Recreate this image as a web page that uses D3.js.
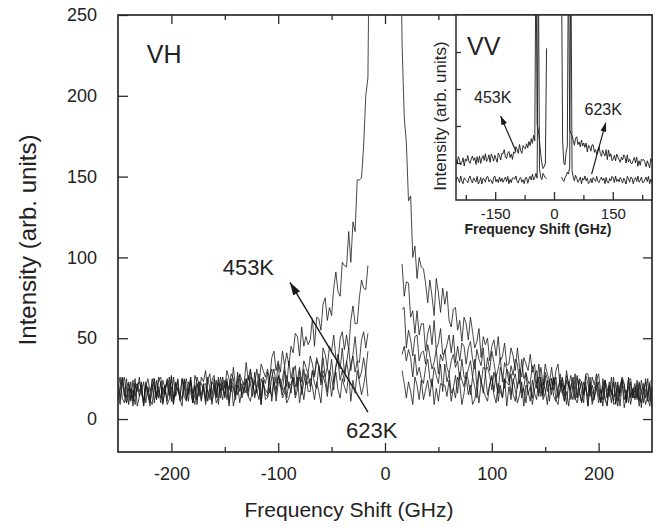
<!DOCTYPE html>
<html>
<head>
<meta charset="utf-8">
<script src="https://cdn.jsdelivr.net/npm/d3@7"></script>
<style>
body{margin:0;background:#fff;}
svg{font-family:"Liberation Sans",Arial,Helvetica,sans-serif;}
</style>
</head>
<body>
<svg id="chart" width="663" height="529"></svg>
<script>
// sampling grids of the spectra (GHz)
var leftFreq = d3.range(-250, -15, 2);   // -250 .. -16
var midFreq = d3.range(-13, 15, 3);      // -13 .. 14 (only the 453K curve is kept here)
var rightFreq = d3.range(16, 251, 2);    // 16 .. 250
var insetLeftFreq = d3.range(-250, -17, 3);  // -250 .. -19
var insetRightFreq = d3.range(19, 251, 3);   // 19 .. 250

// VH spectra (arb. units)
var vh453Left = [20,12,25,18,10,15,23,8,21,17, 26,15,12,20,25,17,22,10,24,13, 23,10,19,24,15,27,13,17,25,12, 25,20,12,23,17,10,27,22,14,26,
  23,30,17,14,24,27,16,22,13,26, 19,30,25,17,32,20,15,28,24,21, 35,24,31,19,22,31,21,34,30,26, 31,24,38,42,30,36,29,42,33,41,
  33,45,41,53,51,39,57,45,51,46, 49,62,45,63,62,55,71,75,61,69, 64,81,91,79,76,97,95,94,116,97, 122,116,148,148,149,169,200,211];
var vh453Mid = [420,560,650,700,720,710,680,600,470,340];
var vh453Right = [232,187,171,135,138,100,107,87,100,94, 93,84,72,86,76,64,87,78,66,81, 71,79,61,57,68,69,55,61,48,63, 59,49,63,54,44,48,56,38,51,46,
  50,36,45,49,39,51,36,39,47,33, 34,44,39,30,44,32,26,38,34,30, 40,29,34,22,24,32,21,34,28,24, 25,18,30,34,20,26,18,30,20,27,
  19,28,13,25,23,16,28,28,16,21, 14,24,28,17,12,24,19,14,26,9, 11,21,16,26,22,11,26,14,19,13, 24,13,10,18,23,15,20,8];

var vh2Left = [11,21,26,15,10,22,17,13,25,8, 14,23,8,21,19,12,24,25,13,18, 13,24,19,11,26,14,9,22,18,15, 13,19,25,15,26,10,20,12,23,22,
  18,11,24,28,15,21,13,26,16,23, 13,23,18,28,25,14,29,17,22,16, 25,17,30,23,15,20,28,13,26,22, 29,16,26,31,22,34,20,25,33,20,
  36,25,32,20,24,32,23,36,32,28, 39,34,27,38,33,26,44,40,32,45, 42,52,38,36,50,54,43,52,43,61, 70,59,59,75,86,81,80,95];
var vh2Right = [96,76,85,84,63,67,53,67,52,59, 59,42,53,58,46,61,43,47,56,40, 41,46,52,41,52,35,45,36,47,45, 34,44,48,37,31,43,37,33,44,27,
  38,30,42,35,26,31,38,23,35,31, 23,33,27,37,34,22,37,25,29,23, 22,33,27,19,34,22,16,29,25,22, 32,21,26,14,17,25,14,27,22,18,
  26,21,13,24,17,10,27,22,14,26, 21,28,14,11,21,24,13,19,10,23, 14,23,8,21,19,12,24,25,13,18, 21,8,17,22,13,25,11,15];

var vh3Left = [12,18,24,14,25,9,19,11,22,21, 23,18,10,21,15,8,25,20,12,24, 26,15,21,9,12,20,10,23,18,14, 25,14,11,19,24,16,21,9,23,12,
  21,13,26,19,11,16,24,9,22,18, 16,25,10,23,21,14,26,27,15,20, 16,27,22,14,29,17,12,25,21,18, 16,26,31,20,15,27,22,18,30,13,
  23,16,29,33,20,26,18,31,21,28, 20,30,26,36,33,23,38,26,32,26, 37,23,33,40,31,44,29,35,44,30, 40,51,36,35,49,54,44,53];
var vh3Right = [68,69,44,55,49,39,51,52,36,41, 42,34,46,39,31,35,43,28,40,36, 43,32,28,36,40,32,36,24,37,26, 25,31,36,26,37,20,30,22,32,31,
  32,27,18,29,23,16,32,27,19,31, 28,15,23,28,19,31,16,20,28,15, 20,13,26,30,16,22,14,27,17,24, 15,26,21,13,28,16,11,24,20,17,
  12,22,27,16,11,23,18,14,26,9, 14,18,23,10,20,12,9,21,15,26, 9,19,14,24,21,10,25,13,18,12, 19,11,24,17,9,14,22,7];

var vh4Left = [19,26,13,10,20,23,12,18,9,22, 17,21,8,23,15,10,18,25,12,20, 10,20,15,25,22,11,26,14,19,13, 8,25,13,17,22,10,15,26,21,11,
  21,22,11,19,9,25,14,24,18,12, 24,12,20,25,8,15,21,10,18,23, 19,14,26,25,13,20,22,9,24,15, 14,25,11,23,18,26,21,13,16,27,
  19,22,26,13,18,30,15,23,28,17, 17,30,22,19,33,21,30,26,17,30, 25,18,32,36,24,30,23,36,27,34, 39,29,36,25,29,38,29,42];
var vh4Right = [40,45,36,43,38,26,40,27,32,25, 22,32,37,25,20,32,27,22,34,17, 34,23,28,16,19,27,16,29,24,20, 29,24,15,26,20,13,29,24,16,28,
  15,21,27,17,28,11,21,13,24,23, 21,28,15,11,21,24,13,19,10,23, 22,9,18,23,14,26,12,16,24,11, 25,14,11,19,24,16,21,9,23,12,
  20,12,25,18,10,15,23,8,21,17, 12,23,18,10,25,13,8,21,17,14, 15,8,21,25,12,18,10,23,13,20, 13,22,7,20,18,11,23,24];

var vh623Left = [16,9,22,26,13,19,11,24,14,21, 14,18,23,10,20,12,9,21,15,26, 22,9,18,23,14,26,12,16,24,11, 13,24,19,11,26,14,9,22,18,15,
  22,9,18,12,23,20,10,13,26,19, 14,23,8,21,19,12,24,25,13,18, 25,14,11,19,24,16,21,9,23,12, 13,19,14,26,11,22,25,15,20,10,
  13,19,25,15,26,10,20,12,23,22, 25,20,12,23,17,10,27,22,14,26, 14,24,29,18,13,25,20,16,28,11, 24,16,30,23,15,21,29,14];
var vh623Right = [30,22,13,23,17,9,26,21,12,24, 12,18,24,14,25,9,19,11,22,21, 21,14,24,11,19,13,26,22,9,16, 26,15,21,9,12,20,10,23,18,14,
  11,21,26,15,10,22,17,13,25,8, 20,12,25,18,10,15,23,8,21,17, 11,24,16,12,26,14,23,18,9,22, 18,25,12,9,19,22,11,17,8,21,
  24,13,10,18,23,15,20,8,22,11, 20,21,10,18,8,24,13,23,17,11, 23,11,19,24,7,14,20,9,17,22, 12,23,18,10,25,13,8,21];

// VV spectra for the inset (arb. units, no scale given)
var vv453Left = [1.10,0.98,1.17,1.07,0.95,1.02,1.14,0.92,1.11,1.05, 1.20,1.04,0.99,1.11,1.19,1.07,1.14,0.96,1.17,1.01,
  1.19,0.99,1.13,1.20,1.07,1.25,1.04,1.10,1.22,1.02, 1.24,1.17,1.05,1.21,1.12,1.02,1.27,1.20,1.08,1.26,
  1.25,1.36,1.16,1.12,1.27,1.31,1.15,1.24,1.10,1.30, 1.26,1.44,1.37,1.26,1.50,1.33,1.26,1.47,1.42,1.38,
  1.52,1.41,1.58,1.47,1.66,1.53,1.75,1.60,7.0,2.05, 1.9,1.6,1.25,1.0,0.85,0.9,1.0,4.1];
var vv453Right = [6.5,1.6,1.0,0.95,1.3,1.45,7.0,1.9,1.8,1.75, 1.61,1.48,1.67,1.71,1.50,1.57,1.44,1.62,1.46,1.54,
  1.42,1.54,1.30,1.48,1.44,1.32,1.49,1.49,1.29,1.36, 1.23,1.37,1.44,1.26,1.18,1.35,1.26,1.19,1.36,1.09,
  1.35,1.17,1.25,1.06,1.10,1.21,1.06,1.24,1.16,1.09, 1.02,1.16,1.08,1.22,1.17,1.00,1.22,1.03,1.10,1.00,
  0.98,1.07,1.15,1.00,1.16,0.91,1.06,0.94,1.10,1.08, 1.09,1.02,0.90,1.06,0.97,0.87,1.12,1.05];
var vv623Left = [0.49,0.62,0.56,0.47,0.65,0.50,0.44,0.60,0.55,0.52, 0.47,0.59,0.65,0.52,0.46,0.60,0.54,0.49,0.64,0.43,
  0.50,0.61,0.43,0.59,0.56,0.48,0.62,0.64,0.49,0.55, 0.53,0.44,0.60,0.65,0.49,0.56,0.47,0.62,0.50,0.59,
  0.48,0.55,0.62,0.50,0.64,0.44,0.56,0.47,0.60,0.59, 0.56,0.65,0.49,0.46,0.58,0.61,0.48,0.55,0.44,0.60,
  0.61,0.45,0.57,0.64,0.54,0.70,0.54,0.61,0.72,0.59, 6.8,0.85,0.62,0.55,0.72,0.66,0.60,0.58];
var vv623Right = [0.62,0.55,0.50,0.60,0.66,0.75,0.70,0.9,6.8,0.8, 0.62,0.52,0.67,0.58,0.48,0.54,0.62,0.44,0.59,0.54,
  0.65,0.52,0.59,0.44,0.48,0.58,0.46,0.61,0.55,0.50, 0.64,0.50,0.47,0.56,0.62,0.53,0.59,0.44,0.61,0.48,
  0.46,0.58,0.52,0.64,0.60,0.47,0.65,0.50,0.56,0.49, 0.61,0.55,0.46,0.59,0.52,0.43,0.64,0.58,0.48,0.62,
  0.60,0.44,0.55,0.61,0.50,0.65,0.48,0.53,0.62,0.47, 0.48,0.55,0.62,0.50,0.64,0.44,0.56,0.47];

// ticks
var xTicks = [-200, -100, 0, 100, 200];
var xMinor = [-150, -50, 50, 150];
var yTicks = [0, 50, 100, 150, 200, 250];
var insetXTicks = [-150, 0, 150];
var insetXMinor = [-225, -75, 75, 225];
var insetYTicks = [1, 2, 3, 4];

function toPts(freqs, vals){ return vals.map(function(v, i){ return {f: freqs[i], v: v}; }); }

var W = 663, H = 529;
var margin = {left: 118, right: 11, top: 15, bottom: 77};
var svg = d3.select("#chart");

var x = d3.scaleLinear().domain([-250, 250]).range([margin.left, W - margin.right]);
var y = d3.scaleLinear().domain([-20.4, 250]).range([H - margin.bottom, margin.top]);

var ink = "#1a1a1a", axisInk = "#2b2b2b";

// arrow heads
var defs = svg.append("defs");
defs.append("marker").attr("id", "headBig")
  .attr("markerUnits", "userSpaceOnUse").attr("markerWidth", 13).attr("markerHeight", 8)
  .attr("refX", 13).attr("refY", 4).attr("orient", "auto")
  .append("path").attr("d", "M0,0 L13,4 L0,8 Z").attr("fill", ink);
defs.append("marker").attr("id", "headSmall")
  .attr("markerUnits", "userSpaceOnUse").attr("markerWidth", 9).attr("markerHeight", 6)
  .attr("refX", 9).attr("refY", 3).attr("orient", "auto")
  .append("path").attr("d", "M0,0 L9,3 L0,6 Z").attr("fill", ink);

defs.append("clipPath").attr("id", "mainClip").append("rect")
  .attr("x", x.range()[0]).attr("y", y.range()[1])
  .attr("width", x.range()[1] - x.range()[0]).attr("height", y.range()[0] - y.range()[1]);

// ---- main VH panel ----
var line = d3.line().x(d => x(d.f)).y(d => y(d.v));

var vhSegments = [
  toPts(leftFreq, vh453Left).concat(toPts(midFreq, vh453Mid), toPts(rightFreq, vh453Right)),
  toPts(leftFreq, vh2Left), toPts(rightFreq, vh2Right),
  toPts(leftFreq, vh3Left), toPts(rightFreq, vh3Right),
  toPts(leftFreq, vh4Left), toPts(rightFreq, vh4Right),
  toPts(leftFreq, vh623Left), toPts(rightFreq, vh623Right)
];

svg.append("g").attr("clip-path", "url(#mainClip)")
  .selectAll("path").data(vhSegments).enter().append("path")
  .attr("d", line)
  .attr("fill", "none").attr("stroke", ink).attr("stroke-width", 0.8)
  .attr("stroke-linejoin", "round");

function styleAxis(g, size){
  g.select(".domain").remove();
  g.selectAll("line").attr("stroke", axisInk).attr("stroke-width", 1.3);
  g.selectAll("text").attr("fill", "#222").style("font-size", size + "px");
}

svg.append("g").attr("transform", "translate(0," + y.range()[0] + ")")
  .call(d3.axisBottom(x).tickValues(xTicks).tickSizeInner(-9).tickSizeOuter(0).tickPadding(15).tickFormat(d => String(d)))
  .call(g => styleAxis(g, 18));
svg.append("g").attr("transform", "translate(0," + y.range()[0] + ")")
  .call(d3.axisBottom(x).tickValues(xMinor).tickSizeInner(-5).tickSizeOuter(0).tickFormat(""))
  .call(g => styleAxis(g, 18));
svg.append("g").attr("transform", "translate(0," + y.range()[1] + ")")
  .call(d3.axisTop(x).tickValues(xTicks).tickSizeInner(-9).tickSizeOuter(0).tickFormat(""))
  .call(g => styleAxis(g, 18));
svg.append("g").attr("transform", "translate(0," + y.range()[1] + ")")
  .call(d3.axisTop(x).tickValues(xMinor).tickSizeInner(-5).tickSizeOuter(0).tickFormat(""))
  .call(g => styleAxis(g, 18));
svg.append("g").attr("transform", "translate(" + x.range()[0] + ",0)")
  .call(d3.axisLeft(y).tickValues(yTicks).tickSizeInner(-10).tickSizeOuter(0).tickPadding(21).tickFormat(d => String(d)))
  .call(g => styleAxis(g, 18));
svg.append("g").attr("transform", "translate(" + x.range()[1] + ",0)")
  .call(d3.axisRight(y).tickValues(yTicks).tickSizeInner(-9).tickSizeOuter(0).tickFormat(""))
  .call(g => styleAxis(g, 18));

svg.append("rect")
  .attr("x", x.range()[0]).attr("y", y.range()[1])
  .attr("width", x.range()[1] - x.range()[0]).attr("height", y.range()[0] - y.range()[1])
  .attr("fill", "none").attr("stroke", axisInk).attr("stroke-width", 1.7);

// axis titles
svg.append("text")
  .attr("x", (x.range()[0] + x.range()[1]) / 2 - 36).attr("y", 517)
  .attr("text-anchor", "middle").attr("fill", "#222").style("font-size", "21px")
  .text("Frequency Shift (GHz)");
svg.append("text")
  .attr("transform", "translate(36,240) rotate(-90)")
  .attr("text-anchor", "middle").attr("fill", "#222").style("font-size", "24px")
  .text("Intensity (arb. units)");

// annotations
svg.append("text").attr("x", x(-223)).attr("y", y(220))
  .attr("fill", "#222").style("font-size", "25px").text("VH");
svg.append("text").attr("x", x(-152)).attr("y", y(89))
  .attr("fill", "#222").style("font-size", "22px").text("453K");
svg.append("text").attr("x", x(-36.5)).attr("y", y(-11.7))
  .attr("fill", "#222").style("font-size", "22px").text("623K");
svg.append("line")
  .attr("x1", x(-16)).attr("y1", y(4.3)).attr("x2", x(-89)).attr("y2", y(84.6))
  .attr("stroke", ink).attr("stroke-width", 1.4).attr("marker-end", "url(#headBig)");

// ---- inset VV panel ----
var ix = d3.scaleLinear().domain([-250, 250]).range([456, x.range()[1]]);
var iy = d3.scaleLinear().domain([0, 5]).range([200, y.range()[1]]);

defs.append("clipPath").attr("id", "insetClip").append("rect")
  .attr("x", ix.range()[0]).attr("y", iy.range()[1])
  .attr("width", ix.range()[1] - ix.range()[0]).attr("height", iy.range()[0] - iy.range()[1]);

var inset = svg.append("g");
inset.append("rect")
  .attr("x", ix.range()[0]).attr("y", iy.range()[1])
  .attr("width", ix.range()[1] - ix.range()[0]).attr("height", iy.range()[0] - iy.range()[1])
  .attr("fill", "#fff");

var iline = d3.line().x(d => ix(d.f)).y(d => iy(d.v));
var vvSegments = [
  toPts(insetLeftFreq, vv453Left), toPts(insetRightFreq, vv453Right),
  toPts(insetLeftFreq, vv623Left), toPts(insetRightFreq, vv623Right)
];
inset.append("g").attr("clip-path", "url(#insetClip)")
  .selectAll("path").data(vvSegments).enter().append("path")
  .attr("d", iline)
  .attr("fill", "none").attr("stroke", ink).attr("stroke-width", 0.9)
  .attr("stroke-linejoin", "round");

inset.append("g").attr("transform", "translate(0," + iy.range()[0] + ")")
  .call(d3.axisBottom(ix).tickValues(insetXTicks).tickSizeInner(-8).tickSizeOuter(0).tickPadding(8).tickFormat(d => String(d)))
  .call(g => styleAxis(g, 15));
inset.append("g").attr("transform", "translate(0," + iy.range()[0] + ")")
  .call(d3.axisBottom(ix).tickValues(insetXMinor).tickSizeInner(-5).tickSizeOuter(0).tickFormat(""))
  .call(g => styleAxis(g, 15));
inset.append("g").attr("transform", "translate(" + ix.range()[0] + ",0)")
  .call(d3.axisLeft(iy).tickValues(insetYTicks).tickSizeInner(-5).tickSizeOuter(0).tickFormat(""))
  .call(g => styleAxis(g, 15));

inset.append("rect")
  .attr("x", ix.range()[0]).attr("y", iy.range()[1])
  .attr("width", ix.range()[1] - ix.range()[0]).attr("height", iy.range()[0] - iy.range()[1])
  .attr("fill", "none").attr("stroke", axisInk).attr("stroke-width", 1.5);

inset.append("text")
  .attr("x", (ix.range()[0] + ix.range()[1]) / 2 - 16).attr("y", 234)
  .attr("text-anchor", "middle").attr("fill", "#222")
  .style("font-size", "14px").style("font-weight", "bold")
  .text("Frequency Shift (GHz)");
inset.append("text")
  .attr("transform", "translate(446,116) rotate(-90)")
  .attr("text-anchor", "middle").attr("fill", "#222").style("font-size", "17px")
  .text("Intensity (arb. units)");

inset.append("text").attr("x", ix(-222)).attr("y", iy(3.92))
  .attr("fill", "#222").style("font-size", "25px").text("VV");
inset.append("text").attr("x", ix(-204)).attr("y", iy(2.62))
  .attr("fill", "#222").style("font-size", "16px").text("453K");
inset.append("text").attr("x", ix(78)).attr("y", iy(2.3))
  .attr("fill", "#222").style("font-size", "16px").text("623K");
inset.append("line")
  .attr("x1", ix(-97)).attr("y1", iy(1.31)).attr("x2", ix(-136)).attr("y2", iy(2.27))
  .attr("stroke", ink).attr("stroke-width", 1.2).attr("marker-end", "url(#headSmall)");
inset.append("line")
  .attr("x1", ix(96)).attr("y1", iy(0.70)).attr("x2", ix(132)).attr("y2", iy(2.09))
  .attr("stroke", ink).attr("stroke-width", 1.2).attr("marker-end", "url(#headSmall)");
</script>
</body>
</html>
